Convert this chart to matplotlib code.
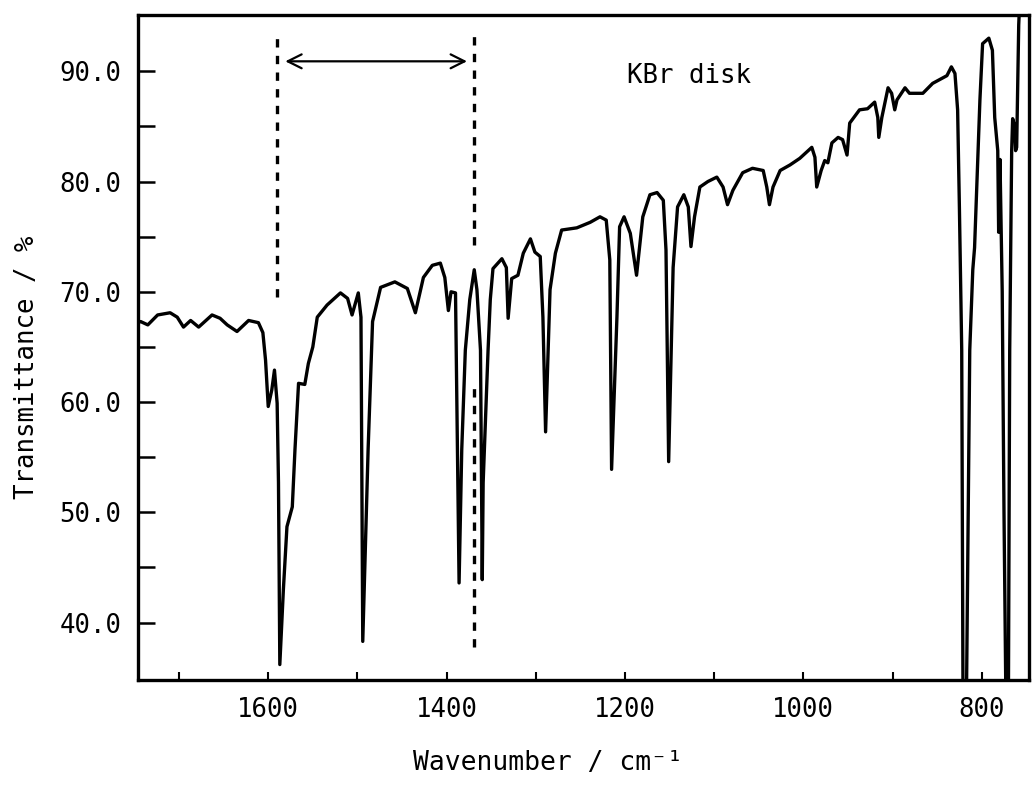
import matplotlib
matplotlib.use("Agg")
import matplotlib.pyplot as plt

# spectrum: wavenumber (cm-1) and transmittance (%)
wavenumber = [1746, 1743, 1735, 1724, 1710, 1702, 1695, 1687, 1678, 1663,
              1654, 1646, 1635, 1622, 1611, 1606, 1603, 1600, 1596, 1593,
              1590, 1588.5, 1587, 1583, 1579, 1573, 1570, 1566, 1559, 1555,
              1550, 1545, 1534, 1519, 1511, 1506, 1499, 1496, 1494, 1488,
              1483, 1474, 1458, 1444, 1435, 1426, 1416, 1407, 1402, 1398,
              1395, 1390, 1386, 1383, 1379, 1374, 1369, 1366, 1362, 1360,
              1359, 1353.5, 1351, 1348, 1338, 1333, 1331, 1327, 1320, 1314,
              1306, 1301, 1295, 1292, 1289, 1284, 1278, 1271, 1254, 1239,
              1228, 1221, 1217, 1215, 1209, 1206, 1201, 1194, 1187, 1180,
              1172, 1164, 1157, 1154, 1151, 1146, 1141, 1134, 1129, 1126,
              1122, 1116, 1107, 1097, 1090, 1085, 1079, 1068, 1057, 1045,
              1041, 1038, 1034, 1026, 1015, 1004, 990.5, 987, 985, 980,
              976, 972.5, 968, 961, 956, 951, 948, 937, 928, 920,
              916.5, 915.4, 912, 905, 901, 897.5, 895, 886, 881, 866,
              855, 839, 834, 830, 827, 825, 822.4, 821, 817, 813.4,
              810, 808, 802, 799, 792, 788, 785.4, 782, 781, 779.5,
              777, 775, 773, 770, 768.6, 766.4, 765.3, 763, 762, 760.8,
              758.5, 757]
transmittance = [67.2, 67.3, 67.0, 67.9, 68.1, 67.7, 66.8, 67.4, 66.8, 67.9,
                 67.6, 67.0, 66.4, 67.4, 67.2, 66.3, 63.8, 59.6, 61.1, 62.9,
                 59.9, 52.7, 36.2, 43.0, 48.7, 50.5, 55.7, 61.7, 61.6, 63.5,
                 65.0, 67.7, 68.8, 69.9, 69.4, 67.9, 69.9, 67.7, 38.3, 55.7,
                 67.3, 70.4, 70.9, 70.3, 68.1, 71.3, 72.4, 72.6, 71.3, 68.3,
                 70.0, 69.9, 43.6, 55.7, 64.7, 69.3, 72.0, 70.2, 64.7, 43.9,
                 52.7, 64.7, 69.3, 72.1, 73.0, 72.2, 67.6, 71.2, 71.5, 73.5,
                 74.8, 73.6, 73.2, 67.7, 57.3, 70.2, 73.5, 75.6, 75.8, 76.3,
                 76.8, 76.5, 72.9, 53.9, 67.7, 75.9, 76.8, 75.3, 71.5, 76.8,
                 78.8, 79.0, 78.3, 73.8, 54.6, 72.2, 77.7, 78.8, 77.7, 74.1,
                 76.8, 79.5, 80.0, 80.4, 79.5, 77.9, 79.2, 80.8, 81.2, 81.0,
                 79.5, 77.9, 79.5, 81.0, 81.5, 82.1, 83.1, 82.2, 79.5, 81.0,
                 81.9, 81.7, 83.5, 84.0, 83.8, 82.4, 85.3, 86.5, 86.6, 87.2,
                 85.8, 84.0, 85.8, 88.5, 88.0, 86.5, 87.4, 88.5, 88.0, 88.0,
                 88.9, 89.6, 90.4, 89.8, 86.5, 77.6, 64.7, 34.0, 34.0, 64.7,
                 72.0, 74.0, 87.4, 92.5, 93.0, 91.9, 85.8, 82.8, 75.4, 82.0,
                 70.0, 50.0, 34.0, 34.0, 64.7, 82.8, 85.7, 85.0, 82.8, 83.1,
                 94.2, 97.0]

# marked region
dash_left = 1590
dash_right = 1369
arrow_y = 90.9

plt.rcParams['font.family'] = ['DejaVu Sans Mono', 'DejaVu Sans']

fig = plt.figure(figsize=(10.33, 7.98), dpi=100)
ax = fig.add_axes([0.1336, 0.1479, 0.8625, 0.8333])

ax.plot(wavenumber, transmittance, color='k', lw=2.4, solid_joinstyle='round')

# dashed guides and the double arrow between them
ax.plot([dash_left, dash_left], [69.5, 93.3], color='k', lw=2.4, ls=(0, (2.5, 2.5)))
ax.plot([dash_right, dash_right], [74.2, 93.5], color='k', lw=2.4, ls=(0, (2.5, 2.5)))
ax.plot([dash_right, dash_right], [37.8, 61.4], color='k', lw=2.4, ls=(0, (2.5, 2.5)))
ax.annotate('', xy=(1374, arrow_y), xytext=(1584, arrow_y),
            arrowprops=dict(arrowstyle='<->', color='k', lw=1.6,
                            mutation_scale=25))

ax.text(1198, 89.6, 'KBr disk', fontsize=18.5, ha='left', va='center')

ax.set_xlim(1746, 747)
ax.set_ylim(34.8, 95.1)

ax.set_xticks([1700, 1600, 1500, 1400, 1300, 1200, 1100, 1000, 900, 800])
ax.set_xticklabels(['', '1600', '', '1400', '', '1200', '', '1000', '', '800'])
ax.set_yticks([40, 45, 50, 55, 60, 65, 70, 75, 80, 85, 90])
ax.set_yticklabels(['40.0', '', '50.0', '', '60.0', '', '70.0', '', '80.0', '', '90.0'])

ax.tick_params(axis='x', direction='in', length=6, width=1.5, labelsize=18.5, pad=12)
ax.tick_params(axis='y', direction='in', length=12, width=1.8, labelsize=18.5, pad=12)
for s in ax.spines.values():
    s.set_linewidth(2.4)

ax.set_xlabel('Wavenumber / cm⁻¹', fontsize=19)
ax.xaxis.set_label_coords(0.46, -0.105)
ax.set_ylabel('Transmittance / %', fontsize=18.5)
ax.yaxis.set_label_coords(-0.11, 0.47)

fig.savefig('out.png', dpi=100)
